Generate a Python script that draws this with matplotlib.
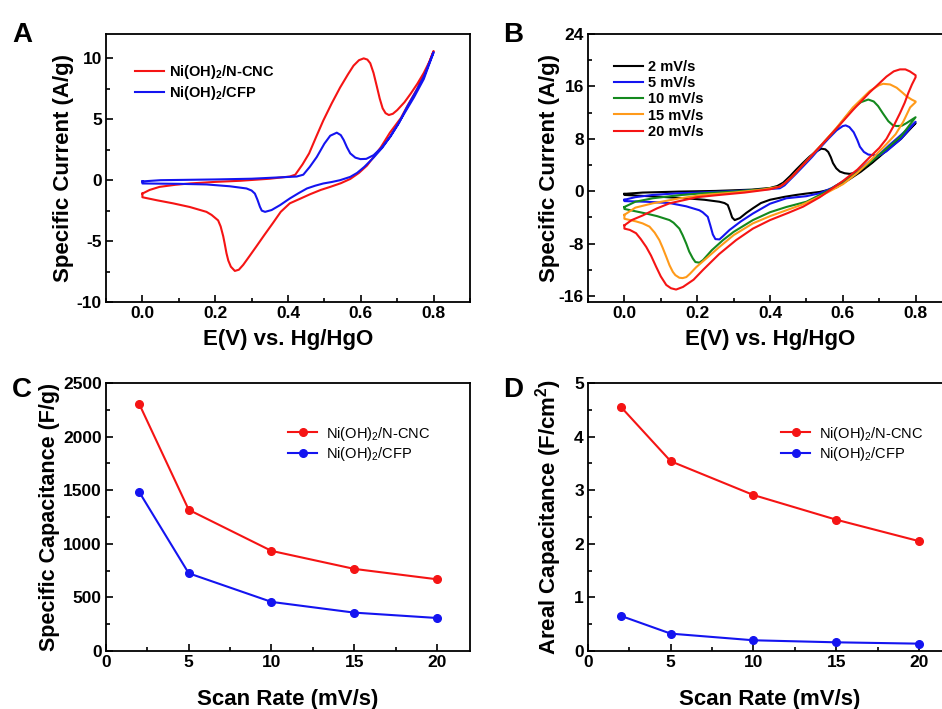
import matplotlib
matplotlib.use("Agg")
import matplotlib.pyplot as plt
from matplotlib.ticker import MultipleLocator, AutoMinorLocator

plt.rcParams['font.family'] = ['Liberation Sans', 'DejaVu Sans']
plt.rcParams['font.weight'] = 'bold'
plt.rcParams['axes.labelweight'] = 'bold'
plt.rcParams['mathtext.default'] = 'regular'
plt.rcParams['axes.unicode_minus'] = False

# ---- panel A: CV at 5 mV/s, (E, I), forward then reverse sweep
a_cnc = [(0.0, -1.1), (0.02, -0.8), (0.047, -0.55), (0.09, -0.38), (0.13, -0.27), (0.2, -0.14),
         (0.268, -0.05), (0.35, 0.12), (0.405, 0.3), (0.42, 0.45), (0.44, 1.3), (0.458, 2.2),
         (0.478, 3.6), (0.497, 4.9), (0.52, 6.3), (0.543, 7.6), (0.565, 8.7), (0.58, 9.4),
         (0.595, 9.85), (0.608, 10.0), (0.618, 9.9), (0.626, 9.6), (0.635, 8.8), (0.644, 7.7),
         (0.652, 6.7), (0.66, 5.9), (0.668, 5.5), (0.677, 5.35), (0.688, 5.45), (0.7, 5.75),
         (0.72, 6.4), (0.737, 7.1), (0.755, 7.9), (0.773, 8.8), (0.788, 9.7), (0.8, 10.6),
         (0.78, 9.0), (0.755, 7.5), (0.73, 6.2), (0.71, 5.1), (0.68, 3.9), (0.655, 2.7),
         (0.635, 1.9), (0.617, 1.2), (0.595, 0.6), (0.571, 0.1), (0.545, -0.25), (0.516, -0.55),
         (0.49, -0.8), (0.461, -1.15), (0.435, -1.5), (0.405, -1.9), (0.38, -2.6), (0.359, -3.5),
         (0.335, -4.5), (0.314, -5.4), (0.295, -6.2), (0.277, -6.95), (0.265, -7.35),
         (0.254, -7.45), (0.243, -7.1), (0.236, -6.6), (0.231, -6.0), (0.226, -5.2),
         (0.222, -4.6), (0.215, -3.8), (0.208, -3.3), (0.19, -2.85), (0.176, -2.6), (0.13, -2.2),
         (0.084, -1.9), (0.04, -1.65), (0.0, -1.4), (0.0, -1.1)]
a_cfp = [(0.0, -0.1), (0.05, 0.0), (0.2, 0.06), (0.3, 0.12), (0.424, 0.3), (0.442, 0.45),
         (0.46, 1.1), (0.479, 1.9), (0.5, 3.0), (0.516, 3.65), (0.534, 3.9), (0.545, 3.7),
         (0.553, 3.3), (0.562, 2.7), (0.571, 2.2), (0.585, 1.85), (0.599, 1.73), (0.615, 1.75),
         (0.635, 2.05), (0.658, 2.7), (0.681, 3.56), (0.705, 4.7), (0.727, 6.0), (0.75, 7.2),
         (0.773, 8.5), (0.8, 10.5), (0.773, 8.3), (0.746, 6.8), (0.72, 5.5), (0.7, 4.5),
         (0.681, 3.6), (0.66, 2.7), (0.635, 1.85), (0.61, 1.1), (0.59, 0.6), (0.571, 0.27),
         (0.543, 0.0), (0.52, -0.15), (0.497, -0.27), (0.475, -0.45), (0.452, -0.68),
         (0.43, -1.05), (0.405, -1.5), (0.378, -2.05), (0.355, -2.45), (0.337, -2.6),
         (0.328, -2.5), (0.323, -2.19), (0.316, -1.6), (0.309, -1.1), (0.3, -0.85), (0.286, -0.68),
         (0.24, -0.5), (0.176, -0.35), (0.1, -0.3), (0.0, -0.27), (0.0, -0.1)]

# ---- panel B: CV of Ni(OH)2/N-CNC at several scan rates
b_labels = ['2 mV/s', '5 mV/s', '10 mV/s', '15 mV/s', '20 mV/s']
b_2 = [(0.0, -0.4), (0.05, -0.2), (0.15, -0.05), (0.25, 0.05), (0.35, 0.25), (0.4, 0.5),
       (0.42, 0.8), (0.436, 1.3), (0.455, 2.3), (0.472, 3.3), (0.49, 4.3), (0.509, 5.3),
       (0.525, 6.0), (0.541, 6.5), (0.552, 6.4), (0.56, 6.0), (0.567, 5.2), (0.573, 4.3),
       (0.582, 3.5), (0.592, 3.0), (0.605, 2.75), (0.619, 2.65), (0.64, 2.9), (0.66, 3.6),
       (0.674, 4.2), (0.7, 5.4), (0.729, 6.8), (0.76, 8.3), (0.8, 10.4),
       (0.76, 8.0), (0.72, 6.2), (0.68, 4.3), (0.65, 3.0), (0.62, 1.9), (0.6, 1.2), (0.583, 0.6),
       (0.56, 0.2), (0.537, -0.1), (0.5, -0.35), (0.472, -0.56), (0.44, -0.85), (0.4, -1.3),
       (0.375, -1.8), (0.353, -2.6), (0.335, -3.3), (0.317, -4.1), (0.303, -4.4), (0.296, -4.0),
       (0.29, -3.0), (0.284, -2.1), (0.275, -1.8), (0.261, -1.6), (0.22, -1.3), (0.17, -1.07),
       (0.1, -0.85), (0.0, -0.56), (0.0, -0.4)]
b_5 = [(0.0, -1.3), (0.03, -0.9), (0.078, -0.56), (0.15, -0.3), (0.25, -0.1), (0.35, 0.15),
       (0.427, 0.46), (0.44, 0.9), (0.454, 1.7), (0.472, 2.7), (0.491, 3.8), (0.515, 5.2),
       (0.537, 6.6), (0.56, 8.0), (0.583, 9.3), (0.6, 9.95), (0.608, 10.05), (0.618, 9.8),
       (0.63, 9.0), (0.64, 7.8), (0.647, 6.8), (0.658, 6.0), (0.67, 5.6), (0.685, 5.5),
       (0.7, 5.6), (0.729, 7.1), (0.76, 8.6), (0.8, 10.6),
       (0.76, 8.0), (0.72, 6.1), (0.674, 4.6), (0.64, 3.0), (0.601, 1.5), (0.57, 0.5),
       (0.537, -0.3), (0.5, -0.75), (0.445, -1.07), (0.4, -1.9), (0.353, -3.4), (0.32, -4.6),
       (0.289, -5.9), (0.27, -6.9), (0.261, -7.35), (0.25, -7.3), (0.243, -6.6), (0.236, -5.2),
       (0.229, -3.9), (0.215, -3.2), (0.206, -2.9), (0.17, -2.3), (0.124, -1.8), (0.06, -1.6),
       (0.0, -1.5), (0.0, -1.3)]
b_10 = [(0.0, -2.4), (0.03, -1.6), (0.078, -1.07), (0.15, -0.6), (0.216, -0.3), (0.3, -0.05),
        (0.38, 0.3), (0.427, 0.7), (0.44, 1.2), (0.46, 2.2), (0.49, 4.0), (0.537, 6.8),
        (0.583, 9.6), (0.628, 12.7), (0.65, 13.6), (0.67, 14.0), (0.685, 13.7), (0.697, 13.0),
        (0.71, 11.9), (0.725, 10.7), (0.737, 10.1), (0.748, 9.95), (0.762, 10.0), (0.775, 10.4),
        (0.8, 11.3),
        (0.76, 8.4), (0.72, 6.5), (0.68, 4.6), (0.64, 2.9), (0.6, 1.4), (0.583, 0.9), (0.56, 0.1),
        (0.537, -0.56), (0.5, -1.6), (0.445, -2.4), (0.4, -3.2), (0.353, -4.4), (0.3, -6.2),
        (0.271, -7.45), (0.24, -9.0), (0.216, -10.5), (0.206, -10.9), (0.195, -10.8),
        (0.188, -10.25), (0.178, -9.2), (0.17, -8.0), (0.16, -6.7), (0.151, -5.7), (0.135, -4.8),
        (0.124, -4.4), (0.09, -3.8), (0.06, -3.4), (0.0, -2.7), (0.0, -2.4)]
b_15 = [(0.0, -3.6), (0.03, -2.5), (0.078, -1.84), (0.15, -1.1), (0.216, -0.56), (0.3, -0.2),
        (0.38, 0.25), (0.427, 0.7), (0.44, 1.2), (0.46, 2.2), (0.49, 4.0), (0.537, 6.8),
        (0.583, 9.7), (0.628, 12.8), (0.674, 15.3), (0.7, 16.2), (0.711, 16.4), (0.73, 16.3),
        (0.748, 15.8), (0.765, 15.0), (0.775, 14.5), (0.789, 14.0), (0.8, 13.7),
        (0.8, 13.6), (0.785, 12.8), (0.766, 10.6), (0.745, 8.7), (0.72, 7.2), (0.674, 4.6),
        (0.64, 2.8), (0.601, 1.1), (0.537, -0.8), (0.49, -2.0), (0.445, -2.9), (0.4, -3.8),
        (0.353, -4.9), (0.3, -6.7), (0.261, -8.5), (0.23, -10.0), (0.197, -11.6), (0.18, -12.6),
        (0.17, -13.1), (0.16, -13.25), (0.151, -13.2), (0.14, -12.8), (0.133, -12.3),
        (0.124, -11.3), (0.115, -10.0), (0.105, -8.6), (0.096, -7.45), (0.083, -6.3),
        (0.069, -5.4), (0.05, -4.9), (0.032, -4.6), (0.0, -4.2), (0.0, -3.6)]
b_20 = [(0.0, -5.2), (0.02, -4.4), (0.05, -3.7), (0.09, -2.6), (0.124, -1.84), (0.2, -0.9),
        (0.261, -0.56), (0.33, -0.2), (0.4, 0.3), (0.427, 0.7), (0.44, 1.2), (0.46, 2.2),
        (0.49, 4.0), (0.537, 6.8), (0.583, 9.6), (0.628, 12.4), (0.674, 15.1), (0.72, 17.5),
        (0.74, 18.3), (0.757, 18.6), (0.772, 18.6), (0.784, 18.3), (0.8, 17.7),
        (0.8, 17.4), (0.79, 16.3), (0.78, 15.0), (0.77, 13.5), (0.757, 11.9), (0.74, 10.0),
        (0.72, 8.0), (0.7, 6.6), (0.674, 5.2), (0.64, 3.3), (0.601, 1.6), (0.537, -0.9),
        (0.491, -2.35), (0.45, -3.3), (0.4, -4.4), (0.353, -5.7), (0.307, -7.45), (0.26, -9.6),
        (0.216, -12.0), (0.19, -13.5), (0.161, -14.6), (0.142, -15.0), (0.128, -14.8),
        (0.115, -14.3), (0.1, -13.0), (0.087, -11.5), (0.073, -9.8), (0.06, -8.5), (0.045, -7.3),
        (0.032, -6.4), (0.015, -5.9), (0.0, -5.7), (0.0, -5.2)]

# ---- panels C and D: capacitance vs scan rate
scan_rate = [2, 5, 10, 15, 20]
cs_cnc = [2307, 1317, 934, 766, 669]
cs_cfp = [1485, 725, 458, 358, 308]
ca_cnc = [4.55, 3.54, 2.91, 2.45, 2.05]
ca_cfp = [0.654, 0.324, 0.20, 0.162, 0.137]

lbl_cnc = r'Ni(OH)$_2$/N-CNC'
lbl_cfp = r'Ni(OH)$_2$/CFP'
RED = '#f51414'
BLUE = '#1414f0'
b_colors = ['black', BLUE, '#14891e', '#ff9a1a', RED]


def style(ax):
    ax.tick_params(which='both', direction='in', top=False, right=False, labelsize=12.5,
                   width=1.2, pad=3)
    ax.tick_params(which='major', length=5)
    ax.tick_params(which='minor', length=3)
    ax.xaxis.set_minor_locator(AutoMinorLocator(2))
    ax.yaxis.set_minor_locator(AutoMinorLocator(2))
    for s in ax.spines.values():
        s.set_linewidth(1.3)


def leg(ax, x, y, spacing, weight, pad):
    ax.legend(loc='upper left', bbox_to_anchor=(x, y), frameon=False,
              handlelength=2.0, borderpad=0, borderaxespad=0, labelspacing=spacing,
              handletextpad=pad, prop={'weight': weight, 'size': 10.5})


fig = plt.figure(figsize=(9.42, 7.09), dpi=100)
W = 364 / 942
axA = fig.add_axes([106 / 942, 1 - 302 / 709, W, 268 / 709])
axB = fig.add_axes([588 / 942, 1 - 302 / 709, W, 268 / 709])
axC = fig.add_axes([106 / 942, 1 - 651 / 709, W, 268 / 709])
axD = fig.add_axes([588 / 942, 1 - 651 / 709, W, 268 / 709])

# A
for data, c, lab in [(a_cnc, RED, lbl_cnc), (a_cfp, BLUE, lbl_cfp)]:
    e, i = zip(*data)
    axA.plot(e, i, color=c, lw=1.5, label=lab)
axA.set_xlim(-0.1, 0.9)
axA.set_ylim(-10, 12)
axA.set_xticks([0.0, 0.2, 0.4, 0.6, 0.8])
axA.set_xticklabels(['0.0', '0.2', '0.4', '0.6', '0.8'])
axA.yaxis.set_major_locator(MultipleLocator(5))
style(axA)
axA.set_xlabel('E(V) vs. Hg/HgO', fontsize=16)
axA.set_ylabel('Specific Current (A/g)', fontsize=16)
leg(axA, 0.08, 0.891, 0.2, 'bold', 0.35)

# B
for data, c, lab in zip([b_2, b_5, b_10, b_15, b_20], b_colors, b_labels):
    e, i = zip(*data)
    axB.plot(e, i, color=c, lw=1.5, label=lab)
axB.set_xlim(-0.1, 0.9)
axB.set_ylim(-16.9, 24)
axB.set_xticks([0.0, 0.2, 0.4, 0.6, 0.8])
axB.set_xticklabels(['0.0', '0.2', '0.4', '0.6', '0.8'])
axB.set_yticks([-16, -8, 0, 8, 16, 24])
style(axB)
axB.set_xlabel('E(V) vs. Hg/HgO', fontsize=16)
axB.set_ylabel('Specific Current (A/g)', fontsize=16)
leg(axB, 0.071, 0.903, 0.15, 'bold', 0.35)

# C
axC.plot(scan_rate, cs_cnc, '-o', color=RED, lw=1.5, ms=5.5, label=lbl_cnc)
axC.plot(scan_rate, cs_cfp, '-o', color=BLUE, lw=1.5, ms=5.5, label=lbl_cfp)
axC.set_xlim(0, 22)
axC.set_ylim(0, 2500)
axC.xaxis.set_major_locator(MultipleLocator(5))
axC.yaxis.set_major_locator(MultipleLocator(500))
style(axC)
axC.set_xlabel('Scan Rate (mV/s)', fontsize=16)
axC.set_ylabel('Specific Capacitance (F/g)', fontsize=15.5)
leg(axC, 0.5, 0.845, 0.2, 'normal', 0.6)

# D
axD.plot(scan_rate, ca_cnc, '-o', color=RED, lw=1.5, ms=5.5, label=lbl_cnc)
axD.plot(scan_rate, ca_cfp, '-o', color=BLUE, lw=1.5, ms=5.5, label=lbl_cfp)
axD.set_xlim(0, 22)
axD.set_ylim(0, 5)
axD.xaxis.set_major_locator(MultipleLocator(5))
axD.yaxis.set_major_locator(MultipleLocator(1))
style(axD)
axD.set_xlabel('Scan Rate (mV/s)', fontsize=16)
axD.set_ylabel(r'Areal Capacitance (F/cm$^2$)', fontsize=16)
leg(axD, 0.53, 0.845, 0.2, 'normal', 0.6)

for ax, yx, xy in [(axA, -0.088, -0.1), (axB, -0.077, -0.1),
                   (axC, -0.126, -0.14), (axD, -0.066, -0.14)]:
    ax.yaxis.set_label_coords(yx, 0.5)
    ax.xaxis.set_label_coords(0.5, xy)

for x, y, t in [(12, 42, 'A'), (503, 42, 'B'), (12, 397, 'C'), (503, 397, 'D')]:
    fig.text(x / 942, 1 - y / 709, t, fontsize=20, fontweight='bold')

fig.savefig('out.png', dpi=100)
